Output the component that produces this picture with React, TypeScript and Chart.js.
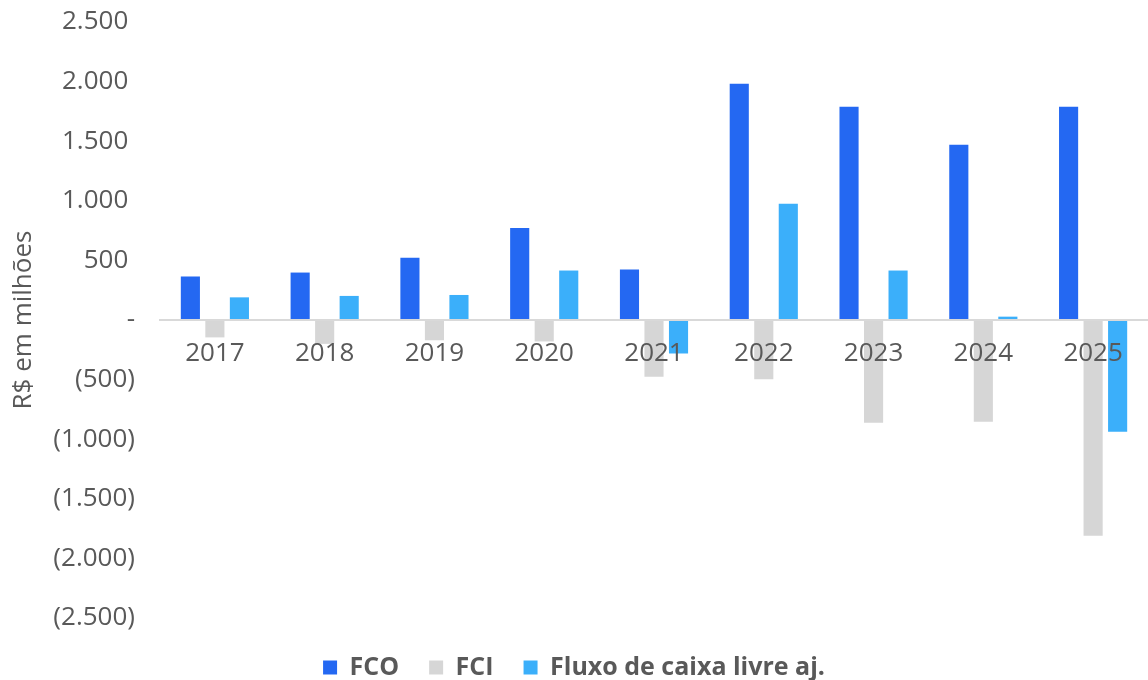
import React, { useEffect, useRef } from "react";
import { Chart, registerables } from "chart.js";

Chart.register(...registerables);

const categories = ["2017", "2018", "2019", "2020", "2021", "2022", "2023", "2024", "2025"];
const fco = [365, 398, 522, 771, 423, 1981, 1790, 1470, 1790];
const fci = [-146, -200, -170, -180, -477, -497, -862, -853, -1810];
const fcl = [190, 202, 210, 415, -281, 976, 415, 28, -938];
const seriesNames = ["FCO", "FCI", "Fluxo de caixa livre aj."];
const yTitle = "R$ em milhões";

const FONT = "'Open Sans', sans-serif";
const GRAY = "#595959";

function fmt(v: number): string {
  if (v === 0) return "-";
  const a = Math.abs(v);
  const s = a >= 1000 ? Math.floor(a / 1000) + "." + String(a % 1000).padStart(3, "0") : String(a);
  return v < 0 ? "(" + s + ")" : s + " ";
}

export default function App() {
  const ref = useRef<HTMLCanvasElement | null>(null);
  useEffect(() => {
    document.body.style.margin = "0";
    const canvas = ref.current!;
    const chart = new Chart(canvas, {
      type: "bar",
      data: {
        labels: categories,
        datasets: [
          { label: seriesNames[0], data: fco, backgroundColor: "#2468F2" },
          { label: seriesNames[1], data: fci, backgroundColor: "#D6D6D6" },
          { label: seriesNames[2], data: fcl, backgroundColor: "#3BAFFA" },
        ],
      },
      options: {
        animation: false,
        responsive: false,
        maintainAspectRatio: false,
        layout: { padding: { top: 22, right: 0, left: 0, bottom: -10 } },
        datasets: { bar: { categoryPercentage: 0.67, barPercentage: 0.78 } },
        scales: {
          x: {
            position: { y: 0 } as any,
            grid: { display: false, drawTicks: false },
            border: { display: true, color: "#D9D9D9", width: 2, z: 1 } as any,
            ticks: { z: 1, padding: 18, color: GRAY, font: { family: FONT, size: 26 }, maxRotation: 0 },
          },
          y: {
            min: -2500,
            max: 2500,
            grid: { display: false, drawTicks: false },
            border: { display: false },
            ticks: {
              stepSize: 500,
              padding: 25,
              color: GRAY,
              font: { family: FONT, size: 26 },
              callback: (v: any) => fmt(Number(v)),
            },
            title: {
              display: true,
              text: yTitle,
              color: GRAY,
              font: { family: FONT, size: 26 },
              padding: { top: 8, bottom: 0 },
            },
            afterFit: (s: any) => {
              s.width = 160;
              s.paddingTop = 0;
              s.paddingBottom = 0;
            },
          },
        },
        plugins: {
          tooltip: { enabled: false },
          legend: {
            position: "bottom",
            title: { display: true, text: " ", font: { size: 5 }, padding: { top: 1, bottom: 0 } },
            labels: {
              boxWidth: 14,
              boxHeight: 14,
              padding: 30,
              color: GRAY,
              font: { family: FONT, size: 25, weight: "bold" },
            },
          },
        },
      },
    });
    return () => chart.destroy();
  }, []);
  return <canvas ref={ref} width={1148} height={680} style={{ display: "block" }} />;
}
